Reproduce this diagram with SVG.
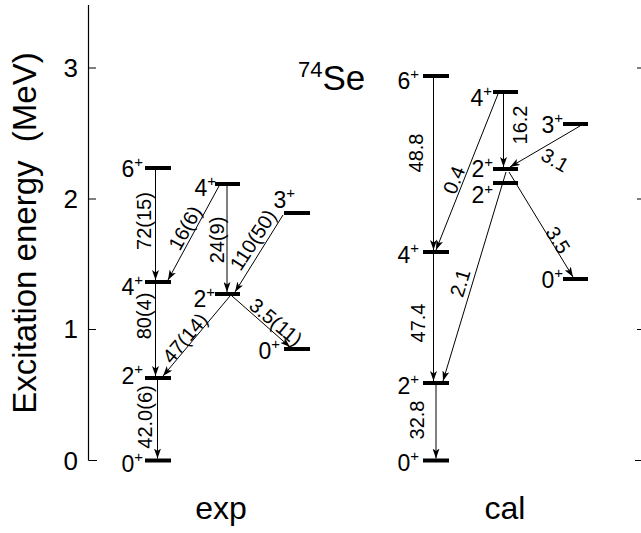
<svg xmlns="http://www.w3.org/2000/svg" width="641" height="533" viewBox="0 0 641 533">
<style>
text{font-family:"Liberation Sans",Arial,sans-serif;fill:#000}
.lv{font-size:23px}
.sp{font-size:15px}
.tr{font-size:20px}
.tick{font-size:26px}
.big{font-size:32px}
.bar{stroke:#000;stroke-width:4;fill:none}
.ax{stroke:#000;stroke-width:1.2;fill:none}
.ar{stroke:#000;stroke-width:1;fill:none;marker-end:url(#ah)}
</style>
<defs>
<marker id="ah" viewBox="0 0 10 7" refX="10" refY="3.5" markerWidth="10" markerHeight="7" markerUnits="userSpaceOnUse" orient="auto">
<path d="M0,0 L10,3.5 L0,7 L2.5,3.5 z" fill="#000"/>
</marker>
</defs>
<rect width="641" height="533" fill="#fff"/>
<g id="axis">
<path class="ax" d="M88.5,5 V460.5 M88.5,68 H96 M88.5,199 H96 M88.5,329.5 H96 M88.5,460.5 H97"/>
<path class="ax" d="M637,68 H641 M637,199 H641 M637,329.5 H641 M635,460.5 H641"/>
<text class="tick" x="78" y="77" text-anchor="end">3</text>
<text class="tick" x="78" y="208" text-anchor="end">2</text>
<text class="tick" x="78" y="338" text-anchor="end">1</text>
<text class="tick" x="78" y="470" text-anchor="end">0</text>
<text style="font-size:33px" xml:space="preserve" transform="translate(36,233) rotate(-90)" text-anchor="middle">Excitation energy  (MeV)</text>
</g>
<g id="title"><text x="298" y="90"><tspan style="font-size:22px" dy="-13">74</tspan><tspan style="font-size:35px" dy="13">Se</tspan></text></g>
<g id="exp-label"><text class="big" x="221" y="519" text-anchor="middle">exp</text></g>
<g id="cal-label"><text class="big" x="505" y="519" text-anchor="middle">cal</text></g>

<g id="exp-0g"><path class="bar" d="M145,460.5 H171"/><text class="lv" x="143" y="472" text-anchor="end">0<tspan class="sp" dy="-10">+</tspan></text></g>
<g id="exp-2p1"><path class="bar" d="M145,378 H171"/><text class="lv" x="143" y="384" text-anchor="end">2<tspan class="sp" dy="-10">+</tspan></text></g>
<g id="exp-4p1"><path class="bar" d="M145,282 H171"/><text class="lv" x="143" y="295" text-anchor="end">4<tspan class="sp" dy="-10">+</tspan></text></g>
<g id="exp-6p1"><path class="bar" d="M145,168 H171"/><text class="lv" x="143" y="177" text-anchor="end">6<tspan class="sp" dy="-10">+</tspan></text></g>
<g id="exp-2p2"><path class="bar" d="M215,294 H240"/><text class="lv" x="215" y="307" text-anchor="end">2<tspan class="sp" dy="-10">+</tspan></text></g>
<g id="exp-4p2"><path class="bar" d="M215,184 H240"/><text class="lv" x="216" y="196" text-anchor="end">4<tspan class="sp" dy="-10">+</tspan></text></g>
<g id="exp-3p"><path class="bar" d="M284,213 H310"/><text class="lv" x="295" y="208" text-anchor="end">3<tspan class="sp" dy="-10">+</tspan></text></g>
<g id="exp-0p2"><path class="bar" d="M284,349 H310"/><text class="lv" x="280" y="359" text-anchor="end">0<tspan class="sp" dy="-10">+</tspan></text></g>

<g id="cal-0g"><path class="bar" d="M423,460.5 H449"/><text class="lv" x="419" y="471" text-anchor="end">0<tspan class="sp" dy="-10">+</tspan></text></g>
<g id="cal-2p1"><path class="bar" d="M423,383 H449"/><text class="lv" x="419" y="394" text-anchor="end">2<tspan class="sp" dy="-10">+</tspan></text></g>
<g id="cal-4p1"><path class="bar" d="M423,252 H449"/><text class="lv" x="419" y="263" text-anchor="end">4<tspan class="sp" dy="-10">+</tspan></text></g>
<g id="cal-6p1"><path class="bar" d="M423,76 H449"/><text class="lv" x="419" y="89" text-anchor="end">6<tspan class="sp" dy="-10">+</tspan></text></g>
<g id="cal-4p2"><path class="bar" d="M493,92 H518"/><text class="lv" x="492" y="106" text-anchor="end">4<tspan class="sp" dy="-10">+</tspan></text></g>
<g id="cal-2p2"><path class="bar" d="M493,169 H518"/><text class="lv" x="493" y="177" text-anchor="end">2<tspan class="sp" dy="-10">+</tspan></text></g>
<g id="cal-2p3"><path class="bar" d="M493,183 H518"/><text class="lv" x="493" y="203" text-anchor="end">2<tspan class="sp" dy="-9">+</tspan></text></g>
<g id="cal-3p"><path class="bar" d="M563,124 H588"/><text class="lv" x="563" y="133" text-anchor="end">3<tspan class="sp" dy="-10">+</tspan></text></g>
<g id="cal-0p2"><path class="bar" d="M563,279 H588"/><text class="lv" x="563" y="288" text-anchor="end">0<tspan class="sp" dy="-10">+</tspan></text></g>

<g id="connectors">
<path class="ar" d="M155.5,170 V280"/>
<path class="ar" d="M155.5,284 V376"/>
<path class="ar" d="M157.5,380 V458.5"/>
<path class="ar" d="M219,186 L168,280"/>
<path class="ar" d="M227,186 V292"/>
<path class="ar" d="M283,215 L235,292"/>
<path class="ar" d="M230,296 L163,376"/>
<path class="ar" d="M232,296 L290,347"/>
<path class="ar" d="M433.5,78 V250"/>
<path class="ar" d="M433.5,254 V381"/>
<path class="ar" d="M436,385 V458.5"/>
<path class="ar" d="M498,94 L436,250"/>
<path class="ar" d="M503.5,94 V167"/>
<path class="ar" d="M580,126 L510,167"/>
<path class="ar" d="M506,172 L443,381"/>
<path class="ar" d="M509,172 L573,277"/>
<g class="tr">
<text class="tr" transform="translate(144,221) rotate(-90)" text-anchor="middle" dy="7">72(15)</text>
<text class="tr" transform="translate(144,316) rotate(-90)" text-anchor="middle" dy="7">80(4)</text>
<text class="tr" transform="translate(145,417) rotate(-90)" text-anchor="middle" dy="7">42.0(6)</text>
<text class="tr" transform="translate(185,228) rotate(-61)" text-anchor="middle" dy="7">16(6)</text>
<text class="tr" transform="translate(217,240) rotate(-90)" text-anchor="middle" dy="7">24(9)</text>
<text class="tr" transform="translate(253,240) rotate(-57)" text-anchor="middle" dy="7">110(50)</text>
<text class="tr" transform="translate(185,338) rotate(-50)" text-anchor="middle" dy="7">47(14)</text>
<text class="tr" transform="translate(276,322) rotate(40)" text-anchor="middle" dy="7">3.5(11)</text>
<text class="tr" transform="translate(416,153) rotate(-90)" text-anchor="middle" dy="7">48.8</text>
<text class="tr" transform="translate(418,323) rotate(-90)" text-anchor="middle" dy="7">47.4</text>
<text class="tr" transform="translate(417,420) rotate(-90)" text-anchor="middle" dy="7">32.8</text>
<text class="tr" transform="translate(520,125) rotate(-90)" text-anchor="middle" dy="7">16.2</text>
<text class="tr" transform="translate(454,180) rotate(-68)" text-anchor="middle" dy="7">0.4</text>
<text class="tr" transform="translate(555,160) rotate(30)" text-anchor="middle" dy="7">3.1</text>
<text class="tr" transform="translate(460,283) rotate(-73)" text-anchor="middle" dy="7">2.1</text>
<text class="tr" transform="translate(558,240) rotate(58)" text-anchor="middle" dy="7">3.5</text>
</g>
</g>
</svg>
